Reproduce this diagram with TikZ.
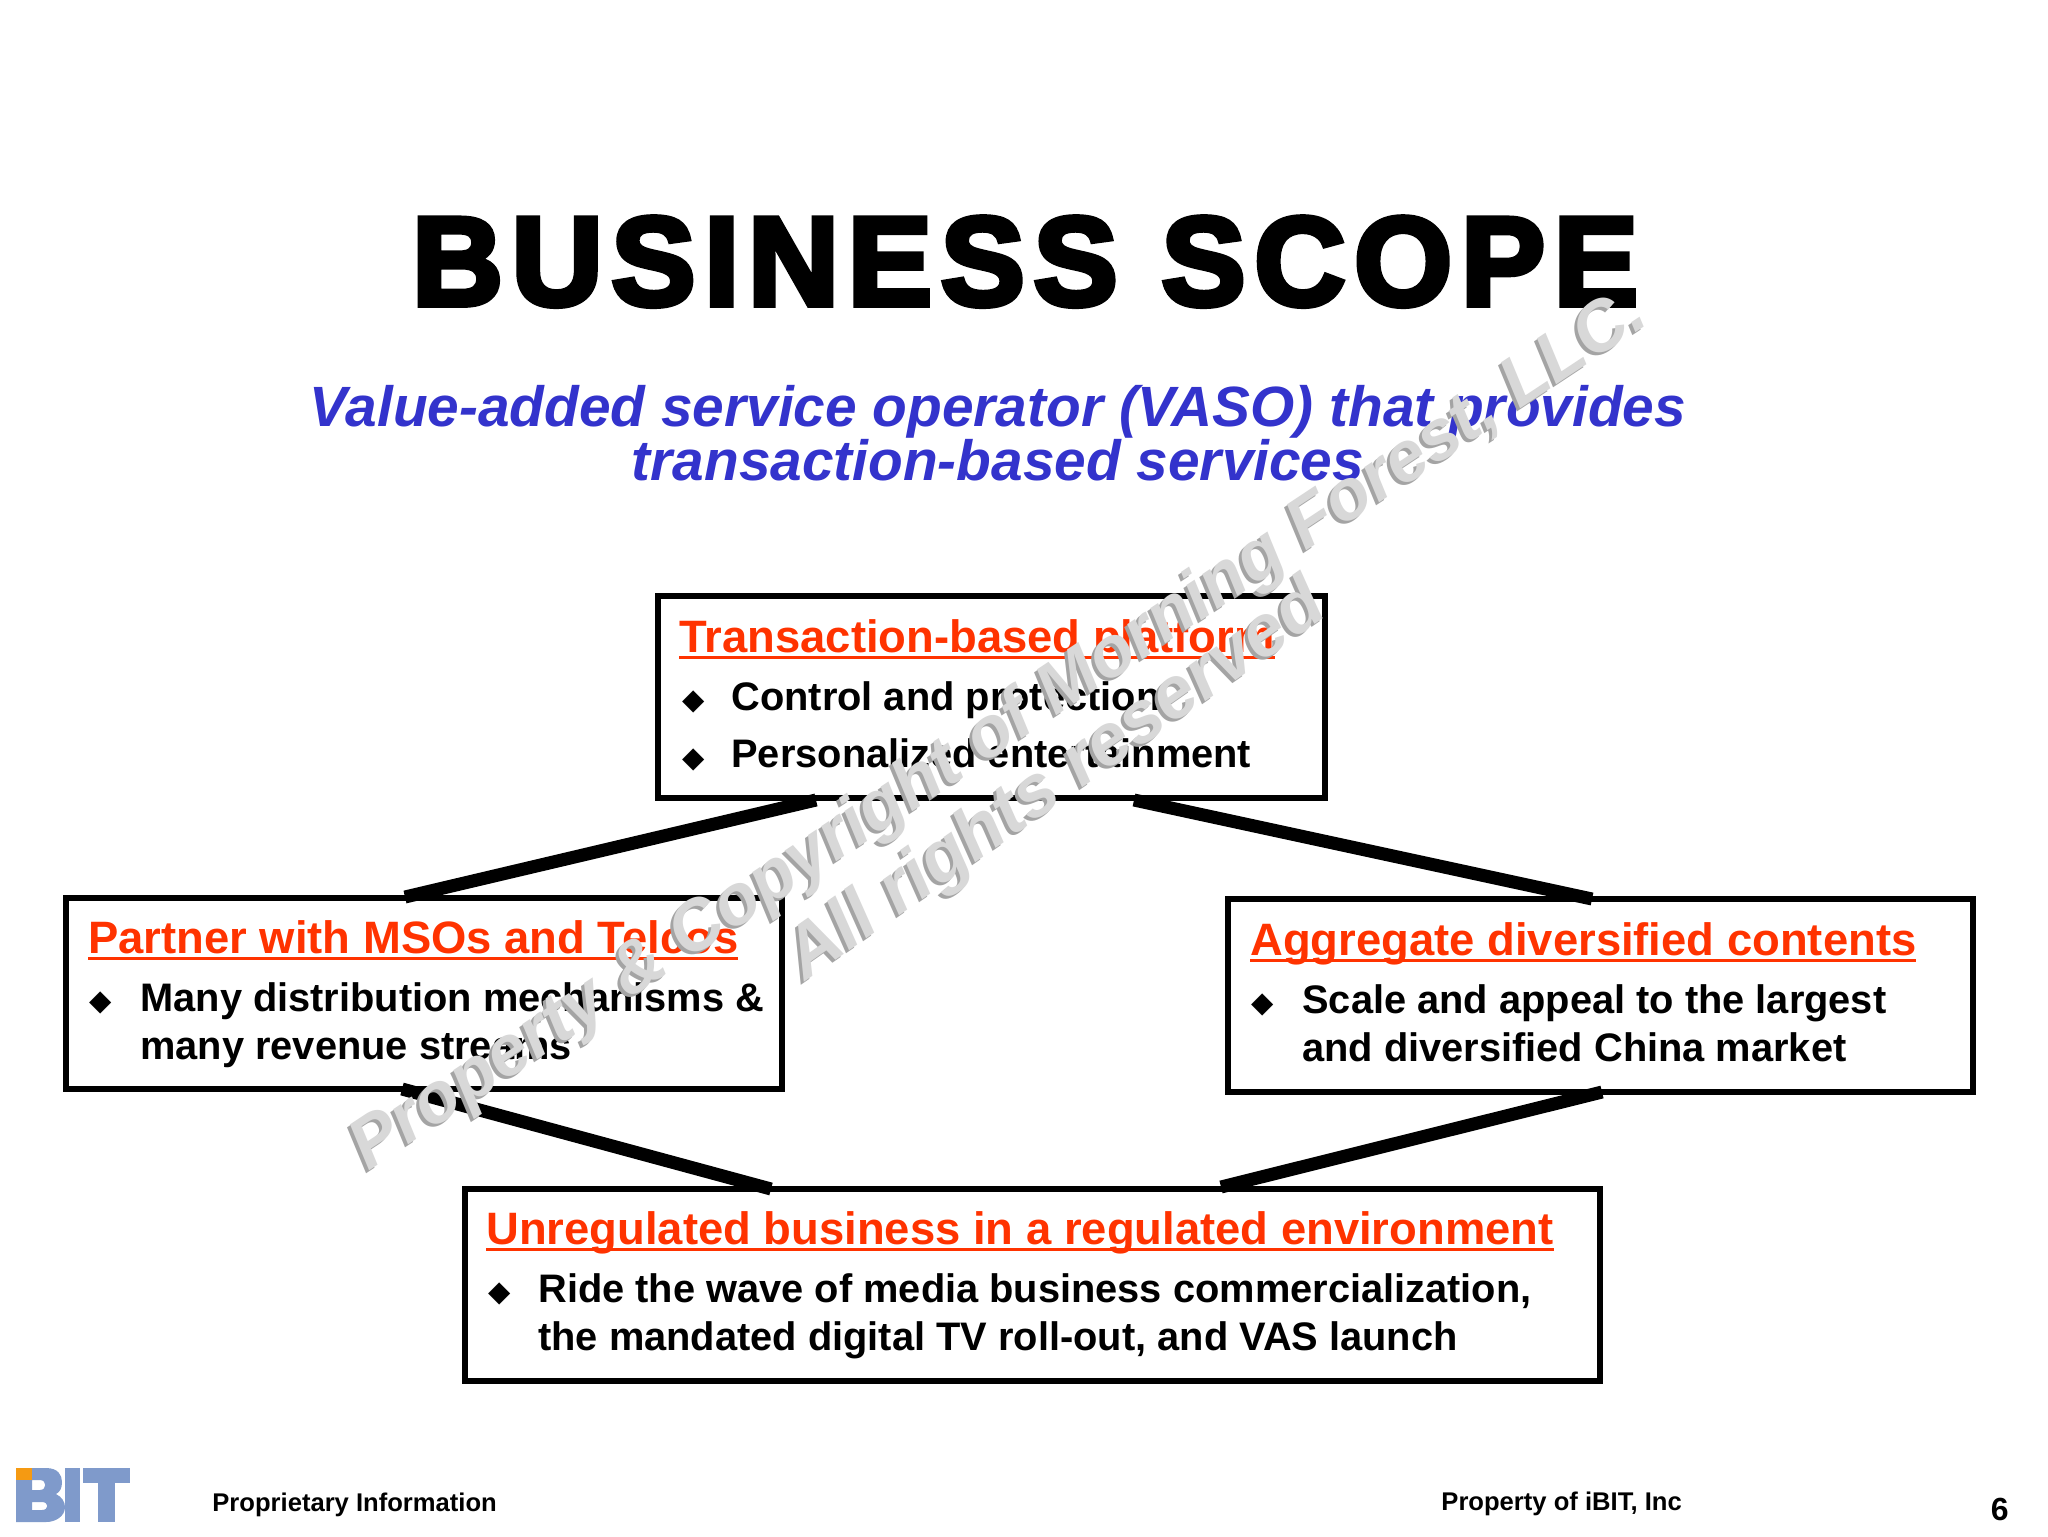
\documentclass[tikz,border=0pt]{standalone}
\usepackage{fontspec}
\setmainfont{Liberation Sans}
\newfontfamily\dv{DejaVu Sans}
\newfontfamily\titlefont[FakeBold=4.5]{Liberation Sans Bold}
\usetikzlibrary{calc}
\definecolor{hdr}{HTML}{FF3300}
\definecolor{sub}{HTML}{3333CC}
\definecolor{logoblue}{HTML}{7F9ACB}
\definecolor{logoorange}{HTML}{F59A12}
\definecolor{wmfill}{HTML}{D8D8D8}
\definecolor{wmedge}{HTML}{A4A4A4}
\newcommand{\ulx}[1]{\setbox0\hbox{#1}\rlap{\vrule height -2.2pt depth 3.5pt width \wd0}\box0}
\tikzset{
  box/.style={draw=black,line width=3pt,fill=white,inner sep=0pt},
  link/.style={draw=black,line width=6.5pt},
  hd/.style={anchor=base west,inner sep=0pt,text=hdr,font=\bfseries\fontsize{22.7}{26}\selectfont},
  bd/.style={anchor=base west,inner sep=0pt,font=\bfseries\fontsize{19.9}{23}\selectfont},
  bl/.style={anchor=base west,inner sep=0pt,font=\dv\fontsize{14.5}{16}\selectfont},
  foot/.style={anchor=base west,inner sep=0pt,font=\bfseries\fontsize{12.8}{15}\selectfont},
  wmbase/.style={anchor=base west,inner sep=0pt,font=\bfseries\itshape\fontsize{35.5}{40}\selectfont},
  wm/.style={wmbase,rotate=33.5},
  wmb/.style={wmbase,rotate=35,font=\bfseries\itshape\fontsize{36.5}{40}\selectfont}
}
\begin{document}
\begin{tikzpicture}[x=0.5pt,y=-0.5pt]
\useasboundingbox (0,0) rectangle (2048,1536);
\fill[white] (0,0) rectangle (2048,1536);
% title
\node[anchor=base,inner sep=0pt,font=\titlefont\fontsize{63}{70}\selectfont] (title) at (1025,305) {\addfontfeature{LetterSpace=7}BUSINESS SCOPE};
\node[anchor=base,inner sep=0pt,text=sub,font=\bfseries\itshape\fontsize{28.4}{30}\selectfont] (sub1) at (998,426) {Value-added service operator (VASO) that provides};
\node[anchor=base,inner sep=0pt,text=sub,font=\bfseries\itshape\fontsize{28.4}{30}\selectfont] (sub2) at (998,480) {transaction-based services};
% boxes
\path[box] (658,596) rectangle (1325,798);
\path[box] (66,898) rectangle (782,1089);
\path[box] (1228,899) rectangle (1973,1092);
\path[box] (465,1189) rectangle (1600,1381);
\coordinate (ta) at (816,800);
\coordinate (tb) at (1134,800);
\coordinate (la) at (405,897);
\coordinate (lb) at (402,1089);
\coordinate (ra) at (1592,899);
\coordinate (rb) at (1602,1092);
\coordinate (ba) at (771,1189);
\coordinate (bb) at (1221,1187);
\draw[link] (ta) -- (la);
\draw[link] (tb) -- (ra);
\draw[link] (lb) -- (ba);
\draw[link] (rb) -- (bb);
% top box
\node[hd] (h1) at (679,652) {\ulx{Transaction-based platform}};
\node[bl] (b1a) at (682,709) {◆};
\node[bd] (t1a) at (731,710) {Control and protection};
\node[bl] (b1b) at (682,767) {◆};
\node[bd] (t1b) at (731,767) {Personalized entertainment};
% left box
\node[hd] (h2) at (88,953) {\ulx{Partner with MSOs and Telcos}};
\node[bl] (b2a) at (89,1010) {◆};
\node[bd] (t2a) at (140,1011) {Many distribution mechanisms \&};
\node[bd] (t2b) at (140,1059) {many revenue streams};
% right box
\node[hd] (h3) at (1250,955) {\ulx{Aggregate diversified contents}};
\node[bl] (b3a) at (1251,1012) {◆};
\node[bd] (t3a) at (1302,1013) {Scale and appeal to the largest};
\node[bd] (t3b) at (1302,1061) {and diversified China market};
% bottom box
\node[hd] (h4) at (486,1244) {\ulx{Unregulated business in a regulated environment}};
\node[bl] (b4a) at (488,1301) {◆};
\node[bd] (t4a) at (538,1302) {Ride the wave of media business commercialization,};
\node[bd] (t4b) at (538,1350) {the mandated digital TV roll-out, and VAS launch};
% footer
\node[foot] (f1) at (212,1511) {Proprietary Information};
\node[foot] (f2) at (1441,1510) {Property of iBIT, Inc};
\node[anchor=base east,inner sep=0pt,font=\bfseries\fontsize{16}{18}\selectfont] (pg) at (2009,1520) {6};
% logo
\fill[logoblue,even odd rule] (16,1468) -- (46,1468) .. controls (58,1468) and (62,1475) .. (62,1482) .. controls (62,1488) and (60,1492) .. (56,1494) .. controls (62,1497) and (65,1502) .. (65,1507) .. controls (65,1516) and (56,1522) .. (46,1522) -- (16,1522) -- cycle
 (32,1480) -- (32,1490) -- (40,1490) .. controls (47,1490) and (47,1480) .. (40,1480) -- cycle
 (32,1502) -- (32,1510) -- (42,1510) .. controls (49,1510) and (49,1502) .. (42,1502) -- cycle;
\fill[logoorange] (16,1468) rectangle (32,1480);
\fill[logoblue] (65,1468) rectangle (80,1522);
\fill[logoblue] (83,1468) rectangle (130,1483);
\fill[logoblue] (98,1483) rectangle (115,1522);
% watermark
\foreach \dx/\dy/\c in {-3/3/wmedge,0/0/wmfill}{
  \node[wm,text=\c] (wa\c) at ($(368,1172)+(\dx,\dy)$) {Property \& Copyright of Morning Forest, LLC.};
  \node[wmb,text=\c] (wb\c) at ($(805,982)+(\dx,\dy)$) {All rights reserved};
}
\end{tikzpicture}
\end{document}
